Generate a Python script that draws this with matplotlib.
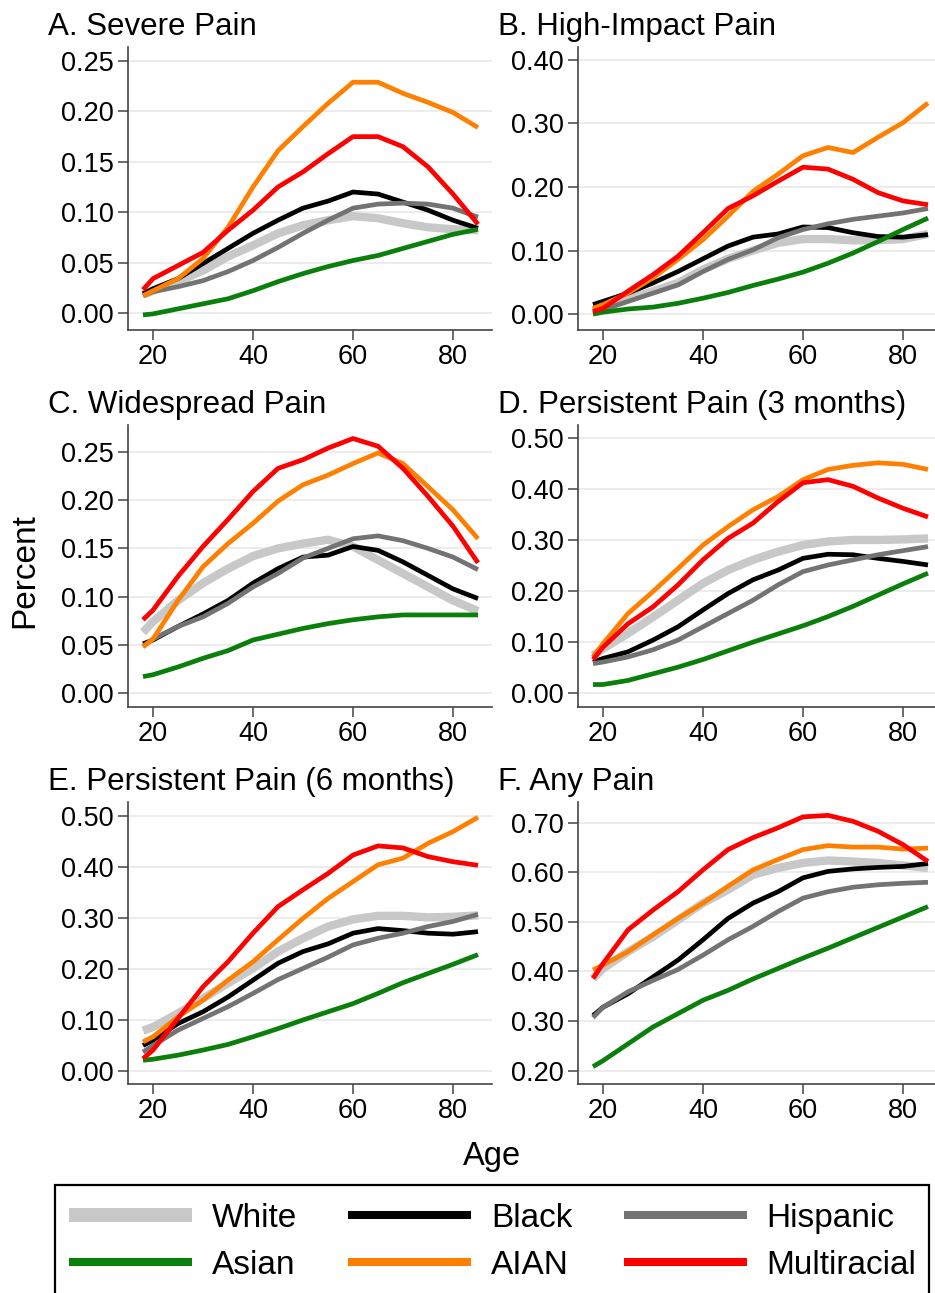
import matplotlib

matplotlib.use("Agg")
import matplotlib.pyplot as plt
from matplotlib.lines import Line2D
from matplotlib.patches import Rectangle

plt.rcParams["font.family"] = ["Liberation Sans", "DejaVu Sans"]

ages = [18, 20, 25, 30, 35, 40, 45, 50, 55, 60, 65, 70, 75, 80, 85]
groups = ["White", "Black", "Hispanic", "Asian", "AIAN", "Multiracial"]

severe = {
    "White": [0.018, 0.022, 0.031, 0.042, 0.056, 0.067, 0.079, 0.087, 0.092, 0.096, 0.094, 0.089, 0.085, 0.083, 0.082],
    "Black": [0.019, 0.024, 0.034, 0.049, 0.064, 0.079, 0.092, 0.104, 0.111, 0.120, 0.118, 0.110, 0.102, 0.092, 0.084],
    "Hispanic": [0.017, 0.021, 0.026, 0.032, 0.041, 0.052, 0.065, 0.079, 0.092, 0.104, 0.108, 0.109, 0.108, 0.104, 0.095],
    "Asian": [-0.002, -0.001, 0.004, 0.009, 0.014, 0.022, 0.031, 0.039, 0.046, 0.052, 0.057, 0.064, 0.071, 0.078, 0.083],
    "AIAN": [0.017, 0.022, 0.034, 0.054, 0.085, 0.125, 0.161, 0.185, 0.208, 0.229, 0.229, 0.218, 0.209, 0.199, 0.184],
    "Multiracial": [0.023, 0.034, 0.047, 0.060, 0.082, 0.102, 0.125, 0.140, 0.158, 0.175, 0.175, 0.165, 0.145, 0.118, 0.088],
}
high_impact = {
    "White": [0.004, 0.009, 0.023, 0.036, 0.049, 0.070, 0.087, 0.100, 0.112, 0.118, 0.118, 0.116, 0.116, 0.118, 0.126],
    "Black": [0.015, 0.020, 0.033, 0.049, 0.067, 0.087, 0.107, 0.121, 0.126, 0.137, 0.136, 0.128, 0.122, 0.121, 0.125],
    "Hispanic": [0.002, 0.007, 0.020, 0.033, 0.046, 0.067, 0.086, 0.101, 0.120, 0.133, 0.142, 0.149, 0.154, 0.159, 0.166],
    "Asian": [0.000, 0.003, 0.008, 0.011, 0.017, 0.025, 0.034, 0.045, 0.055, 0.066, 0.080, 0.096, 0.114, 0.133, 0.151],
    "AIAN": [0.009, 0.015, 0.033, 0.057, 0.086, 0.117, 0.154, 0.193, 0.220, 0.249, 0.262, 0.254, 0.278, 0.301, 0.332],
    "Multiracial": [0.004, 0.009, 0.036, 0.062, 0.091, 0.128, 0.166, 0.186, 0.209, 0.231, 0.228, 0.212, 0.191, 0.178, 0.172],
}
widespread = {
    "White": [0.063, 0.074, 0.096, 0.114, 0.129, 0.142, 0.150, 0.155, 0.159, 0.152, 0.138, 0.124, 0.110, 0.096, 0.085],
    "Black": [0.051, 0.055, 0.069, 0.082, 0.096, 0.114, 0.129, 0.141, 0.143, 0.152, 0.148, 0.136, 0.122, 0.108, 0.098],
    "Hispanic": [0.048, 0.056, 0.069, 0.079, 0.093, 0.110, 0.124, 0.140, 0.150, 0.160, 0.163, 0.158, 0.150, 0.141, 0.128],
    "Asian": [0.017, 0.019, 0.027, 0.036, 0.044, 0.055, 0.061, 0.067, 0.072, 0.076, 0.079, 0.081, 0.081, 0.081, 0.081],
    "AIAN": [0.048, 0.056, 0.096, 0.131, 0.155, 0.176, 0.199, 0.216, 0.226, 0.238, 0.249, 0.238, 0.214, 0.190, 0.160],
    "Multiracial": [0.076, 0.086, 0.121, 0.152, 0.180, 0.209, 0.233, 0.242, 0.254, 0.264, 0.256, 0.233, 0.204, 0.173, 0.135],
}
persistent_3m = {
    "White": [0.074, 0.087, 0.117, 0.149, 0.182, 0.215, 0.241, 0.261, 0.277, 0.290, 0.297, 0.300, 0.300, 0.301, 0.303],
    "Black": [0.061, 0.068, 0.081, 0.104, 0.130, 0.163, 0.195, 0.222, 0.241, 0.264, 0.272, 0.271, 0.264, 0.258, 0.251],
    "Hispanic": [0.058, 0.061, 0.071, 0.085, 0.104, 0.130, 0.156, 0.182, 0.212, 0.238, 0.251, 0.261, 0.271, 0.279, 0.287],
    "Asian": [0.017, 0.017, 0.025, 0.038, 0.051, 0.066, 0.083, 0.100, 0.116, 0.132, 0.150, 0.170, 0.192, 0.214, 0.235],
    "AIAN": [0.071, 0.097, 0.156, 0.199, 0.244, 0.290, 0.326, 0.359, 0.385, 0.418, 0.438, 0.446, 0.451, 0.448, 0.438],
    "Multiracial": [0.066, 0.090, 0.136, 0.169, 0.212, 0.261, 0.303, 0.333, 0.375, 0.412, 0.418, 0.405, 0.382, 0.362, 0.345],
}
persistent_6m = {
    "White": [0.079, 0.086, 0.113, 0.142, 0.172, 0.201, 0.234, 0.260, 0.283, 0.297, 0.304, 0.304, 0.301, 0.302, 0.305],
    "Black": [0.050, 0.060, 0.093, 0.116, 0.145, 0.178, 0.211, 0.234, 0.249, 0.270, 0.279, 0.275, 0.270, 0.268, 0.273],
    "Hispanic": [0.037, 0.050, 0.080, 0.103, 0.126, 0.152, 0.179, 0.201, 0.223, 0.247, 0.260, 0.270, 0.283, 0.293, 0.307],
    "Asian": [0.021, 0.023, 0.031, 0.041, 0.052, 0.067, 0.083, 0.100, 0.116, 0.132, 0.152, 0.173, 0.191, 0.209, 0.228],
    "AIAN": [0.057, 0.067, 0.106, 0.139, 0.178, 0.214, 0.257, 0.299, 0.338, 0.371, 0.404, 0.417, 0.446, 0.469, 0.497],
    "Multiracial": [0.024, 0.041, 0.103, 0.165, 0.214, 0.270, 0.322, 0.355, 0.387, 0.423, 0.441, 0.437, 0.420, 0.410, 0.403],
}
any_pain = {
    "White": [0.386, 0.406, 0.440, 0.470, 0.504, 0.538, 0.565, 0.595, 0.609, 0.619, 0.624, 0.622, 0.619, 0.614, 0.609],
    "Black": [0.311, 0.328, 0.355, 0.389, 0.423, 0.464, 0.507, 0.538, 0.561, 0.589, 0.602, 0.607, 0.610, 0.612, 0.618],
    "Hispanic": [0.307, 0.328, 0.359, 0.382, 0.404, 0.433, 0.464, 0.491, 0.521, 0.548, 0.561, 0.570, 0.575, 0.578, 0.580],
    "Asian": [0.208, 0.220, 0.254, 0.288, 0.315, 0.342, 0.362, 0.385, 0.406, 0.427, 0.447, 0.468, 0.489, 0.510, 0.531],
    "AIAN": [0.403, 0.413, 0.440, 0.474, 0.507, 0.538, 0.572, 0.605, 0.626, 0.646, 0.654, 0.651, 0.651, 0.647, 0.649],
    "Multiracial": [0.386, 0.416, 0.484, 0.524, 0.561, 0.605, 0.646, 0.670, 0.690, 0.712, 0.715, 0.703, 0.683, 0.656, 0.622],
}

titles = ["A. Severe Pain", "B. High-Impact Pain", "C. Widespread Pain",
          "D. Persistent Pain (3 months)", "E. Persistent Pain (6 months)", "F. Any Pain"]
panels = [severe, high_impact, widespread, persistent_3m, persistent_6m, any_pain]
yticks = [
    [0.0, 0.05, 0.10, 0.15, 0.20, 0.25],
    [0.0, 0.1, 0.2, 0.3, 0.4],
    [0.0, 0.05, 0.10, 0.15, 0.20, 0.25],
    [0.0, 0.1, 0.2, 0.3, 0.4, 0.5],
    [0.0, 0.1, 0.2, 0.3, 0.4, 0.5],
    [0.2, 0.3, 0.4, 0.5, 0.6, 0.7],
]
ylims = [(-0.017, 0.264), (-0.025, 0.42), (-0.0145, 0.278),
         (-0.027, 0.525), (-0.0255, 0.527), (0.173, 0.742)]

colors = {"White": "#c8c8c8", "Black": "#000000", "Hispanic": "#737373",
          "Asian": "#0b7f0b", "AIAN": "#ff8000", "Multiracial": "#ff0000"}
widths = {"White": 6.0, "Black": 3.4, "Hispanic": 3.4, "Asian": 3.4, "AIAN": 3.4, "Multiracial": 3.4}

W, H = 935, 1293
fig = plt.figure(figsize=(W / 100, H / 100), dpi=100)

col_left = [128, 578]
row_top = [47, 425, 802]
row_bot = [330, 707, 1084]
title_base = [35, 413, 790]
title_x = [48, 498]

for i, (data, title) in enumerate(zip(panels, titles)):
    r, c = divmod(i, 2)
    ax = fig.add_axes([col_left[c] / W, 1 - row_bot[r] / H, 364 / W, (row_bot[r] - row_top[r]) / H])
    for g in groups:
        ax.plot(ages, data[g], color=colors[g], lw=widths[g],
                solid_capstyle="butt", solid_joinstyle="round")
    ax.set_xlim(15, 87.8)
    ax.set_ylim(*ylims[i])
    ax.set_xticks([20, 40, 60, 80])
    ax.set_yticks(yticks[i])
    ax.set_yticklabels([f"{v:.2f}" for v in yticks[i]])
    ax.grid(axis="y", color="#ebebeb", lw=1.3)
    ax.set_axisbelow(True)
    for s in ["top", "right"]:
        ax.spines[s].set_visible(False)
    for s in ["left", "bottom"]:
        ax.spines[s].set_color("#444444")
        ax.spines[s].set_linewidth(1.2)
    ax.tick_params(direction="out", length=7, width=1.1, color="#444444", labelsize=19.5, pad=3)
    fig.text(title_x[c] / W, 1 - title_base[r] / H, title, fontsize=22.5, va="baseline", ha="left")

fig.text(25 / W, 1 - 571 / H, "Percent", rotation=90, fontsize=24, ha="center", va="center")
fig.text(492 / W, 1 - 1165 / H, "Age", fontsize=23.5, ha="center", va="baseline")

# legend box runs off the bottom of the figure, as in the source
fig.patches.append(Rectangle((55 / W, -0.05), (929 - 55) / W, 1 - 1185 / H + 0.05,
                             transform=fig.transFigure, fill=False, edgecolor="black", lw=1.6))

order = ["White", "Asian", "Black", "AIAN", "Hispanic", "Multiracial"]
handles = [Line2D([], [], color=colors[g], lw=10 if g == "White" else 5.8, solid_capstyle="butt") for g in order]
fig.legend(handles, order, ncol=3, loc="upper left", bbox_to_anchor=(69 / W, 1 - 1203 / H),
           frameon=False, fontsize=24, handlelength=3.69, handletextpad=0.6, columnspacing=1.53,
           labelspacing=0.48, borderpad=0, borderaxespad=0)

fig.savefig("out.png", dpi=100)
